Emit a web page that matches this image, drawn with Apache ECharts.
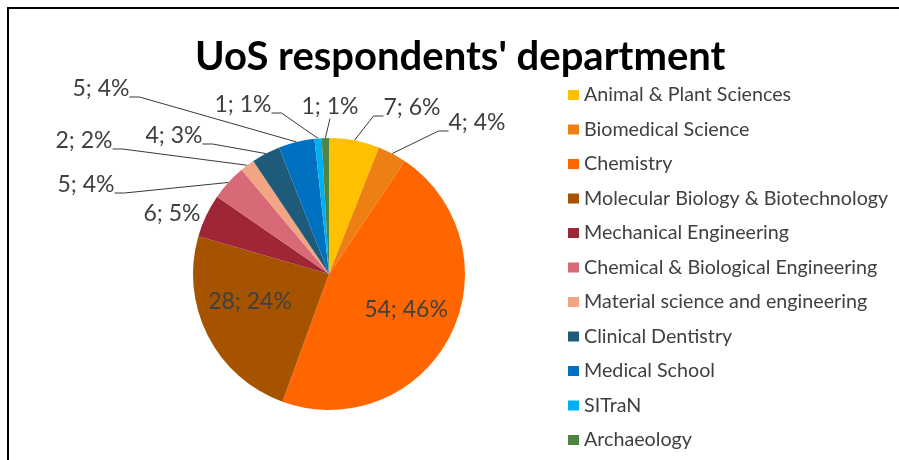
<!DOCTYPE html>
<html>
<head>
<meta charset="utf-8">
<script src="https://cdn.jsdelivr.net/npm/echarts@6/dist/echarts.min.js"></script>
<style>
  html, body { margin: 0; padding: 0; background: #fff; }
  #chart { width: 899px; height: 460px; }
</style>
</head>
<body>
<div id="chart"></div>
<script>
// departments, in the order Excel draws them (clockwise from 12 o'clock)
const categories = [
    'Animal & Plant Sciences',
    'Biomedical Science',
    'Chemistry',
    'Molecular Biology & Biotechnology',
    'Mechanical Engineering',
    'Chemical & Biological Engineering',
    'Material science and engineering',
    'Clinical Dentistry',
    'Medical School',
    'SITraN',
    'Archaeology'
];
const counts = [7, 4, 54, 28, 6, 5, 2, 4, 5, 1, 1];
// percent shown in the data labels, as printed on the original
const percents = [6, 4, 46, 24, 5, 4, 2, 3, 4, 1, 1];

const colors = ['#FFC000', '#EE7F12', '#FF6600', '#A65300', '#9E2636', '#D86A78',
    '#F2A585', '#1E5A7A', '#0070C0', '#00B0F0', '#4E8542'];

// where each data label sits (label box centre), Excel-style
const labelSpots = [
    [412, 116], [477, 131], [406, 310], [250, 302], [172, 214], [86, 193],
    [84, 149], [174, 144], [101, 97], [243, 113], [330, 107]
];
const withLeader = [true, true, false, false, false, true, true, true, true, true, true];
// labels whose leader meets them low (under the text), as Excel does
const lowLeader = [true, true, false, false, false, true, true, true, true, true, false];

let chart = echarts.init(document.getElementById('chart'), null, { renderer: 'canvas' });

let seriesData = categories.map(function (name, i) {
    return {
        name: name,
        value: counts[i],
        labelLine: {
            show: withLeader[i],
            length2: i === 10 ? 0 : 10
        }
    };
});

let options = {
    backgroundColor: '#fff',
    animation: false,
    color: colors,

    // frame of the pasted chart (only top & left edges are visible)
    graphic: [{
        type: 'rect',
        shape: { x: 8, y: 8, width: 900, height: 460 },
        style: { fill: 'none', stroke: '#000', lineWidth: 2 },
        silent: true
    }],

    title: {
        text: "UoS respondents' department",
        left: 195,
        top: 37,
        padding: 0,
        textStyle: {
            fontFamily: 'Lato',
            fontWeight: 'bold',
            fontSize: 40,
            color: '#000'
        }
    },

    legend: {
        orient: 'vertical',
        left: 563,
        top: 80,
        icon: 'rect',
        itemWidth: 11,
        itemHeight: 10,
        itemGap: 14.5,
        data: categories,
        textStyle: {
            fontFamily: 'Lato',
            fontSize: 19.7,
            lineHeight: 20,
            color: '#404040'
        }
    },

    series: [{
        type: 'pie',
        center: [329, 274],
        radius: 136,
        startAngle: 90,
        avoidLabelOverlap: false,
        data: seriesData,
        itemStyle: { borderWidth: 0 },
        label: {
            show: true,
            position: 'outside',
            fontFamily: 'Lato',
            fontSize: 23,
            lineHeight: 16,
            color: '#404040',
            formatter: function (p) {
                let txt = counts[p.dataIndex] + '; ' + percents[p.dataIndex] + '%';
                // an empty second line drops the box centre below the text
                return lowLeader[p.dataIndex] ? txt + '\n ' : txt;
            }
        },
        labelLine: {
            length: 10,
            length2: 10,
            lineStyle: { color: '#3a3a3a', width: 1 }
        },
        labelLayout: function (p) {
            let s = labelSpots[p.dataIndex];
            return { x: s[0], y: s[1], align: 'center', verticalAlign: 'middle' };
        }
    }]
};

chart.setOption(options);
</script>
</body>
</html>
